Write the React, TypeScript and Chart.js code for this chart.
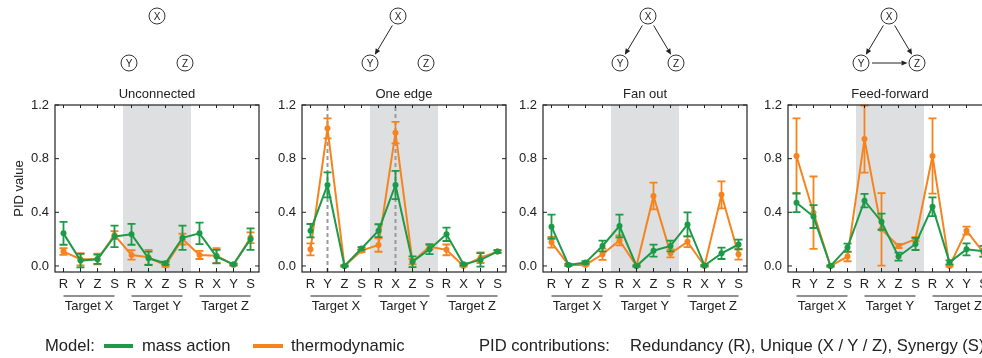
import React, { useEffect, useRef } from 'react';
import { Chart, registerables } from 'chart.js';

Chart.register(...registerables);

const GREEN = '#1d9a48';
const ORANGE = '#f5841f';
const BAND = '#dedfe1';
const INK = '#222222';
const FONT = '"Liberation Sans", Arial, Helvetica, sans-serif';

const panelTitles = ['Unconnected', 'One edge', 'Fan out', 'Feed-forward'];
const categories = ['R', 'Y', 'Z', 'S', 'R', 'X', 'Z', 'S', 'R', 'X', 'Y', 'S'];
const groupLabels = ['Target X', 'Target Y', 'Target Z'];
const yTicks = [0, 0.4, 0.8, 1.2];
const seriesNames = ['mass action', 'thermodynamic'];

// Unconnected
const unconnectedMass = [0.243, 0.04, 0.05, 0.22, 0.236, 0.057, 0.02, 0.21, 0.243, 0.07, 0.012, 0.2];
const unconnectedMassErr = [0.085, 0.05, 0.035, 0.08, 0.078, 0.05, 0.012, 0.09, 0.08, 0.05, 0.008, 0.08];
const unconnectedThermo = [0.107, 0.05, 0.052, 0.23, 0.082, 0.065, 0.003, 0.2, 0.082, 0.077, 0.008, 0.21];
const unconnectedThermoErr = [0.025, 0.045, 0.04, 0.03, 0.035, 0.055, 0.01, 0.04, 0.03, 0.055, 0.006, 0.04];

// One edge
const oneEdgeMass = [0.263, 0.604, 0.0, 0.13, 0.263, 0.604, 0.032, 0.124, 0.236, 0.012, 0.045, 0.107];
const oneEdgeMassErr = [0.05, 0.093, 0.005, 0.01, 0.048, 0.105, 0.04, 0.035, 0.05, 0.008, 0.05, 0.01];
const oneEdgeThermo = [0.124, 1.026, 0.0, 0.114, 0.156, 0.994, 0.032, 0.144, 0.12, 0.0, 0.062, 0.107];
const oneEdgeThermoErr = [0.045, 0.075, 0.005, 0.01, 0.05, 0.08, 0.02, 0.02, 0.04, 0.005, 0.04, 0.01];

// Fan out
const fanOutMass = [0.293, 0.008, 0.025, 0.149, 0.298, 0.0, 0.114, 0.149, 0.31, 0.003, 0.094, 0.16];
const fanOutMassErr = [0.09, 0.008, 0.01, 0.04, 0.085, 0.005, 0.045, 0.04, 0.09, 0.005, 0.042, 0.037];
const fanOutThermo = [0.176, 0.008, 0.008, 0.087, 0.19, 0.0, 0.522, 0.094, 0.18, 0.0, 0.53, 0.087];
const fanOutThermoErr = [0.04, 0.006, 0.006, 0.042, 0.037, 0.005, 0.1, 0.03, 0.04, 0.005, 0.1, 0.04];

// Feed-forward
const feedForwardMass = [0.472, 0.368, 0.0, 0.137, 0.487, 0.33, 0.07, 0.164, 0.442, 0.027, 0.124, 0.11];
const feedForwardMassErr = [0.07, 0.085, 0.005, 0.03, 0.05, 0.06, 0.03, 0.045, 0.07, 0.015, 0.045, 0.04];
const feedForwardThermo = [0.82, 0.397, 0.0, 0.07, 0.946, 0.273, 0.149, 0.2, 0.82, 0.0, 0.263, 0.1];
const feedForwardThermoErr = [0.28, 0.27, 0.005, 0.035, 0.25, 0.27, 0.015, 0.015, 0.28, 0.005, 0.03, 0.03];

const massSeries = [unconnectedMass, oneEdgeMass, fanOutMass, feedForwardMass];
const massErrors = [unconnectedMassErr, oneEdgeMassErr, fanOutMassErr, feedForwardMassErr];
const thermoSeries = [unconnectedThermo, oneEdgeThermo, fanOutThermo, feedForwardThermo];
const thermoErrors = [unconnectedThermoErr, oneEdgeThermoErr, fanOutThermoErr, feedForwardThermoErr];

// categories with dashed guide lines (One edge panel only)
const dashedGuides = [[], [1, 5], [], []];
// network edges per panel
const networkEdges: string[][][] = [
  [],
  [['X', 'Y']],
  [['X', 'Y'], ['X', 'Z']],
  [['X', 'Y'], ['X', 'Z'], ['Y', 'Z']],
];

// layout
const PLOT_LEFTS = [55, 302, 543, 788];
const AXIS_W = 55;
const CANVAS_W = 263;
const CANVAS_H = 230;
const CANVAS_TOP = 85;
const DIAGRAM_X = [157, 398, 648, 889];

const panelPlugin = {
  id: 'panelDecor',
  beforeDatasetsDraw(chart: any) {
    const { ctx, chartArea } = chart;
    const xs = chart.scales.x;
    const step = xs.getPixelForValue(1) - xs.getPixelForValue(0);
    const x0 = xs.getPixelForValue(4) - step / 2;
    const x1 = xs.getPixelForValue(7) + step / 2;
    ctx.save();
    ctx.fillStyle = BAND;
    ctx.fillRect(x0, chartArea.top, x1 - x0, chartArea.bottom - chartArea.top);
    const guides = chart.options.plugins.panelDecor.guides || [];
    ctx.strokeStyle = '#9a9a9a';
    ctx.lineWidth = 2;
    ctx.setLineDash([4, 3]);
    guides.forEach((g: number) => {
      const x = xs.getPixelForValue(g);
      ctx.beginPath();
      ctx.moveTo(x, chartArea.bottom);
      ctx.lineTo(x, chartArea.top);
      ctx.stroke();
    });
    ctx.restore();
  },
  afterDatasetDraw(chart: any, args: any) {
    const ds = chart.data.datasets[args.index];
    const errs: number[] = ds.errors;
    if (!errs) return;
    const ys = chart.scales.y;
    const { ctx } = chart;
    ctx.save();
    ctx.strokeStyle = ds.borderColor;
    ctx.lineWidth = 1.8;
    const cap = 4;
    args.meta.data.forEach((pt: any, i: number) => {
      const v = ds.data[i];
      const e = errs[i];
      const yt = ys.getPixelForValue(v + e);
      const yb = ys.getPixelForValue(v - e);
      ctx.beginPath();
      ctx.moveTo(pt.x, yt);
      ctx.lineTo(pt.x, yb);
      ctx.moveTo(pt.x - cap, yt);
      ctx.lineTo(pt.x + cap, yt);
      ctx.moveTo(pt.x - cap, yb);
      ctx.lineTo(pt.x + cap, yb);
      ctx.stroke();
    });
    ctx.restore();
  },
  afterDraw(chart: any) {
    const { ctx, chartArea } = chart;
    const xs = chart.scales.x;
    const ys = chart.scales.y;
    const { left, right, top, bottom } = chartArea;
    ctx.save();
    ctx.strokeStyle = INK;
    ctx.lineWidth = 1.2;
    ctx.strokeRect(left, top, right - left, bottom - top);
    ctx.lineWidth = 1;
    ctx.beginPath();
    categories.forEach((_, i) => {
      const x = xs.getPixelForValue(i);
      ctx.moveTo(x, bottom);
      ctx.lineTo(x, bottom - 4);
      ctx.moveTo(x, top);
      ctx.lineTo(x, top + 3);
    });
    yTicks.forEach((v) => {
      const y = ys.getPixelForValue(v);
      ctx.moveTo(left, y);
      ctx.lineTo(left + 4, y);
      ctx.moveTo(right, y);
      ctx.lineTo(right - 4, y);
    });
    ctx.stroke();

    // title
    ctx.fillStyle = INK;
    ctx.font = `13px ${FONT}`;
    ctx.textAlign = 'center';
    ctx.textBaseline = 'alphabetic';
    ctx.fillText(chart.options.plugins.panelDecor.title, (left + right) / 2, top - 7);

    // group labels
    groupLabels.forEach((g, gi) => {
      const a = xs.getPixelForValue(gi * 4);
      const b = xs.getPixelForValue(gi * 4 + 3);
      ctx.beginPath();
      ctx.lineWidth = 1;
      ctx.moveTo(a, bottom + 24);
      ctx.lineTo(b, bottom + 24);
      ctx.stroke();
      ctx.fillText(g, (a + b) / 2, bottom + 38);
    });
    ctx.restore();
  },
};

function Panel({ index }: { index: number }) {
  const ref = useRef<HTMLCanvasElement | null>(null);
  useEffect(() => {
    if (!ref.current) return;
    const chart = new Chart(ref.current, {
      type: 'line',
      data: {
        labels: categories,
        datasets: [
          {
            label: seriesNames[0],
            data: massSeries[index],
            errors: massErrors[index],
            borderColor: GREEN,
            backgroundColor: GREEN,
            borderWidth: 2,
            pointRadius: 3,
            pointBorderWidth: 0,
            tension: 0,
          } as any,
          {
            label: seriesNames[1],
            data: thermoSeries[index],
            errors: thermoErrors[index],
            borderColor: ORANGE,
            backgroundColor: ORANGE,
            borderWidth: 2,
            pointRadius: 3,
            pointBorderWidth: 0,
            tension: 0,
          } as any,
        ],
      },
      options: {
        responsive: false,
        animation: false,
        layout: { padding: { top: 20, right: 4, left: 0, bottom: 0 } },
        plugins: {
          legend: { display: false },
          tooltip: { enabled: false },
          panelDecor: { title: panelTitles[index], guides: dashedGuides[index] },
        } as any,
        scales: {
          x: {
            type: 'category',
            offset: true,
            grid: { display: false, drawTicks: false, tickLength: 0 },
            border: { display: false },
            ticks: {
              color: INK,
              font: { family: FONT, size: 13 },
              padding: 5,
              autoSkip: false,
              maxRotation: 0,
            },
            afterFit: (s: any) => {
              s.height = 43;
            },
          },
          y: {
            min: -0.045,
            max: 1.2,
            grid: { display: false, drawTicks: false, tickLength: 0 },
            border: { display: false },
            afterBuildTicks: (s: any) => {
              s.ticks = yTicks.map((v) => ({ value: v }));
            },
            ticks: {
              color: INK,
              font: { family: FONT, size: 13 },
              padding: 6,
              callback: (v: any) => Number(v).toFixed(1),
            },
            title: {
              display: index === 0,
              text: 'PID value',
              color: INK,
              font: { family: FONT, size: 13 },
              padding: { top: 12, bottom: 0 },
            },
            afterFit: (s: any) => {
              s.width = AXIS_W;
            },
          },
        } as any,
      },
      plugins: [panelPlugin],
    } as any);
    return () => chart.destroy();
  }, [index]);
  return (
    <canvas
      ref={ref}
      width={CANVAS_W}
      height={CANVAS_H}
      style={{
        position: 'absolute',
        left: PLOT_LEFTS[index] - AXIS_W,
        top: CANVAS_TOP,
        width: CANVAS_W,
        height: CANVAS_H,
      }}
    />
  );
}

function Diagram({ index }: { index: number }) {
  const cx = DIAGRAM_X[index];
  const nodes: Record<string, [number, number]> = {
    X: [cx, 16],
    Y: [cx - 28, 63],
    Z: [cx + 28, 63],
  };
  const r = 8;
  return (
    <g>
      {networkEdges[index].map(([a, b], k) => {
        const [x1, y1] = nodes[a];
        const [x2, y2] = nodes[b];
        const dx = x2 - x1;
        const dy = y2 - y1;
        const L = Math.hypot(dx, dy);
        const ux = dx / L;
        const uy = dy / L;
        const sx = x1 + ux * (r + 3);
        const sy = y1 + uy * (r + 3);
        const ex = x2 - ux * (r + 1.5);
        const ey = y2 - uy * (r + 1.5);
        const ah = 6;
        const aw = 2.6;
        const bx = ex - ux * ah;
        const by = ey - uy * ah;
        const p1 = `${ex},${ey}`;
        const p2 = `${bx - uy * aw},${by + ux * aw}`;
        const p3 = `${bx + uy * aw},${by - ux * aw}`;
        return (
          <g key={k}>
            <line x1={sx} y1={sy} x2={bx} y2={by} stroke="#222" strokeWidth={1} />
            <polygon points={`${p1} ${p2} ${p3}`} fill="#222" />
          </g>
        );
      })}
      {Object.entries(nodes).map(([name, [x, y]]) => (
        <g key={name}>
          <circle cx={x} cy={y} r={r} fill="#fff" stroke="#333" strokeWidth={1} />
          <text
            x={x}
            y={y + 3.5}
            textAnchor="middle"
            fontSize={10}
            fontFamily={FONT}
            fill="#222"
          >
            {name}
          </text>
        </g>
      ))}
    </g>
  );
}

export default function App() {
  useEffect(() => {
    document.body.style.margin = '0';
  }, []);
  return (
    <div
      style={{
        position: 'relative',
        width: 982,
        height: 358,
        overflow: 'hidden',
        background: '#fff',
      }}
    >
      {[0, 1, 2, 3].map((i) => (
        <Panel key={i} index={i} />
      ))}
      <svg
        width={982}
        height={358}
        style={{ position: 'absolute', left: 0, top: 0, pointerEvents: 'none' }}
      >
        {[0, 1, 2, 3].map((i) => (
          <Diagram key={i} index={i} />
        ))}
        <g fontFamily={FONT} fontSize={16.6} fill={INK}>
          <text x={45} y={351}>Model:</text>
          <rect x={104} y={344} width={29} height={4} fill={GREEN} />
          <text x={142} y={351}>{seriesNames[0]}</text>
          <rect x={253} y={344} width={30} height={4} fill={ORANGE} />
          <text x={291} y={351}>{seriesNames[1]}</text>
          <text x={479} y={351}>PID contributions:</text>
          <text x={630} y={351}>Redundancy (R), Unique (X / Y / Z), Synergy (S)</text>
        </g>
      </svg>
    </div>
  );
}
